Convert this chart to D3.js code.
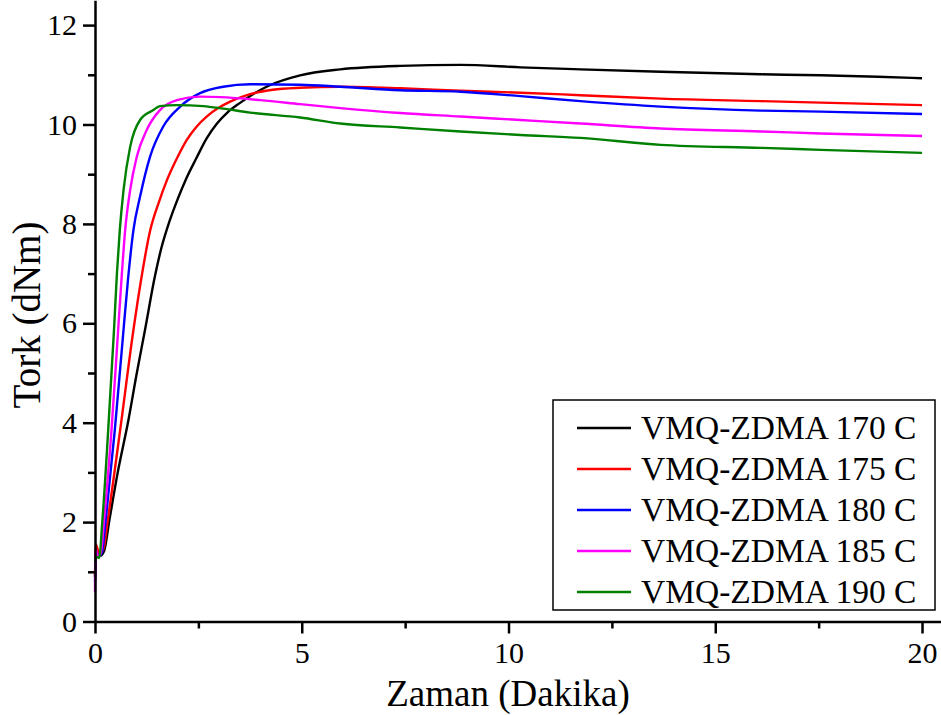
<!DOCTYPE html>
<html>
<head>
<meta charset="utf-8">
<script src="https://cdn.jsdelivr.net/npm/d3@7"></script>
<style>
  body { margin: 0; background: white; }
  text { font-family: "Liberation Serif", "Times New Roman", serif; }
</style>
</head>
<body>
<div id="container"></div>
<script>
let w = 941;
let h = 715;

// data: [time (min), torque (dNm)]
let s170 = [[0,0.9],[0.03,1.4],[0.12,1.32],[0.22,1.42],[0.35,2.05],[0.55,3.0],[0.81,4.06],[1.0,4.95],[1.21,5.87],[1.45,6.95],[1.6,7.5],[1.8,8.05],[2.0,8.5],[2.2,8.9],[2.45,9.32],[2.7,9.72],[2.95,10.02],[3.2,10.24],[3.5,10.43],[3.8,10.6],[4.2,10.78],[4.96,10.99],[5.93,11.11],[7.38,11.18],[8.84,11.2],[10.29,11.15],[11.74,11.11],[13.68,11.06],[16.1,11.01],[17.55,10.99],[18.93,10.96],[20,10.93]];
let s175 = [[0,0.9],[0.02,1.55],[0.1,1.38],[0.2,1.45],[0.31,2.05],[0.61,3.86],[0.93,5.87],[1.1,6.8],[1.33,7.85],[1.55,8.45],[1.74,8.88],[2.0,9.35],[2.22,9.69],[2.45,9.95],[2.7,10.16],[3.0,10.34],[3.27,10.46],[3.75,10.61],[4.3,10.7],[4.96,10.74],[5.93,10.76],[7.38,10.73],[8.84,10.68],[10.29,10.64],[11.74,10.59],[13.68,10.52],[16.1,10.47],[17.55,10.44],[20,10.39]];
let s180 = [[0,0.8],[0.03,1.4],[0.1,1.32],[0.17,1.4],[0.26,2.05],[0.48,3.86],[0.69,5.87],[0.8,6.9],[0.93,7.88],[1.09,8.55],[1.33,9.35],[1.65,9.96],[2.06,10.36],[2.54,10.63],[3.1,10.76],[3.75,10.81],[4.96,10.8],[5.93,10.76],[7.38,10.69],[8.84,10.66],[10.29,10.57],[11.74,10.47],[13.68,10.36],[16.1,10.28],[17.55,10.26],[20,10.21]];
let s185 = [[0,0.6],[0.02,1.45],[0.08,1.3],[0.14,1.38],[0.22,2.05],[0.4,3.86],[0.56,5.87],[0.65,7.0],[0.73,7.88],[0.85,8.68],[1.01,9.35],[1.25,9.89],[1.57,10.29],[1.98,10.49],[2.54,10.56],[3.03,10.55],[4.0,10.49],[4.96,10.41],[5.93,10.33],[7.38,10.23],[8.84,10.16],[10.29,10.09],[11.74,10.02],[13.68,9.92],[16.1,9.86],[17.55,9.82],[20,9.77]];
let s190 = [[0,1.2],[0.04,1.3],[0.1,1.28],[0.18,2.05],[0.32,3.86],[0.46,5.87],[0.53,7.0],[0.6,7.88],[0.69,8.68],[0.85,9.55],[1.09,10.09],[1.41,10.29],[1.57,10.37],[1.98,10.39],[2.62,10.37],[3.1,10.32],[3.75,10.24],[4.96,10.14],[5.93,10.02],[7.38,9.94],[8.84,9.86],[10.29,9.79],[11.74,9.73],[13.68,9.59],[16.1,9.53],[17.55,9.49],[20,9.43]];

let seriesNames = ["VMQ-ZDMA 170 C", "VMQ-ZDMA 175 C", "VMQ-ZDMA 180 C", "VMQ-ZDMA 185 C", "VMQ-ZDMA 190 C"];
let seriesColors = ["#000000", "#ff0000", "#0000ff", "#ff00ff", "#008000"];
let xTicks = [0, 5, 10, 15, 20];
let xMinor = [2.5, 7.5, 12.5, 17.5];
let yTicks = [0, 2, 4, 6, 8, 10, 12];
let yMinor = [1, 3, 5, 7, 9, 11];

let allSeries = [s170, s175, s180, s185, s190];

let viz = d3.select("#container")
  .append("svg")
    .attr("width", w)
    .attr("height", h)
    .style("background-color", "white");

let xScale = d3.scaleLinear().domain([0, 20.5]).range([95, 942.7]);
let yScale = d3.scaleLinear().domain([0, 12.5]).range([621.5, 0.25]);

// lines
let line = d3.line()
  .x(d => xScale(d[0]))
  .y(d => yScale(d[1]))
  .curve(d3.curveMonotoneX);

viz.selectAll(".series").data(allSeries).enter()
  .append("path")
    .attr("class", "series")
    .attr("d", line)
    .attr("fill", "none")
    .attr("stroke", (d, i) => seriesColors[i])
    .attr("stroke-width", 2.4)
    .attr("stroke-linejoin", "round");

// minor ticks first, then the main axes on top
let xMinorAxis = viz.append("g")
  .attr("transform", "translate(0," + yScale(0) + ")")
  .call(d3.axisBottom(xScale).tickValues(xMinor).tickSize(7).tickFormat(""));
let yMinorAxis = viz.append("g")
  .attr("transform", "translate(" + xScale(0) + ",0)")
  .call(d3.axisLeft(yScale).tickValues(yMinor).tickSize(7).tickFormat(""));

let xAxisGroup = viz.append("g")
  .attr("class", "xaxis")
  .attr("transform", "translate(0," + yScale(0) + ")")
  .call(d3.axisBottom(xScale).tickValues(xTicks).tickSize(12).tickSizeOuter(0).tickPadding(8));
let yAxisGroup = viz.append("g")
  .attr("class", "yaxis")
  .attr("transform", "translate(" + xScale(0) + ",0)")
  .call(d3.axisLeft(yScale).tickValues(yTicks).tickSize(12).tickSizeOuter(0).tickPadding(6));

viz.selectAll(".domain, .tick line")
  .attr("stroke", "black")
  .attr("stroke-width", 2.5);
viz.selectAll(".tick text")
  .attr("fill", "black")
  .style("font-family", "'Liberation Serif', serif")
  .style("font-size", "30px");
yMinorAxis.select(".domain").remove();
xMinorAxis.select(".domain").remove();

// axis titles
viz.append("text")
  .text("Tork (dNm)")
  .attr("transform", "translate(40,315) rotate(-90)")
  .attr("text-anchor", "middle")
  .attr("fill", "black")
  .style("font-size", "39px");
viz.append("text")
  .text("Zaman (Dakika)")
  .attr("x", 508)
  .attr("y", 706)
  .attr("text-anchor", "middle")
  .attr("fill", "black")
  .style("font-size", "37px");

// legend
let legend = viz.append("g").attr("transform", "translate(553,400)");
legend.append("rect")
  .attr("width", 382)
  .attr("height", 210)
  .attr("fill", "white")
  .attr("stroke", "black")
  .attr("stroke-width", 1.5);
let items = legend.selectAll(".item").data(seriesNames).enter()
  .append("g")
    .attr("class", "item")
    .attr("transform", (d, i) => "translate(0," + (28 + i * 41) + ")");
items.append("line")
  .attr("x1", 24).attr("x2", 78)
  .attr("y1", 0).attr("y2", 0)
  .attr("stroke", (d, i) => seriesColors[i])
  .attr("stroke-width", 2.4);
items.append("text")
  .text(d => d)
  .attr("x", 88)
  .attr("y", 11)
  .attr("fill", "black")
  .style("font-size", "33.5px");
</script>
</body>
</html>
